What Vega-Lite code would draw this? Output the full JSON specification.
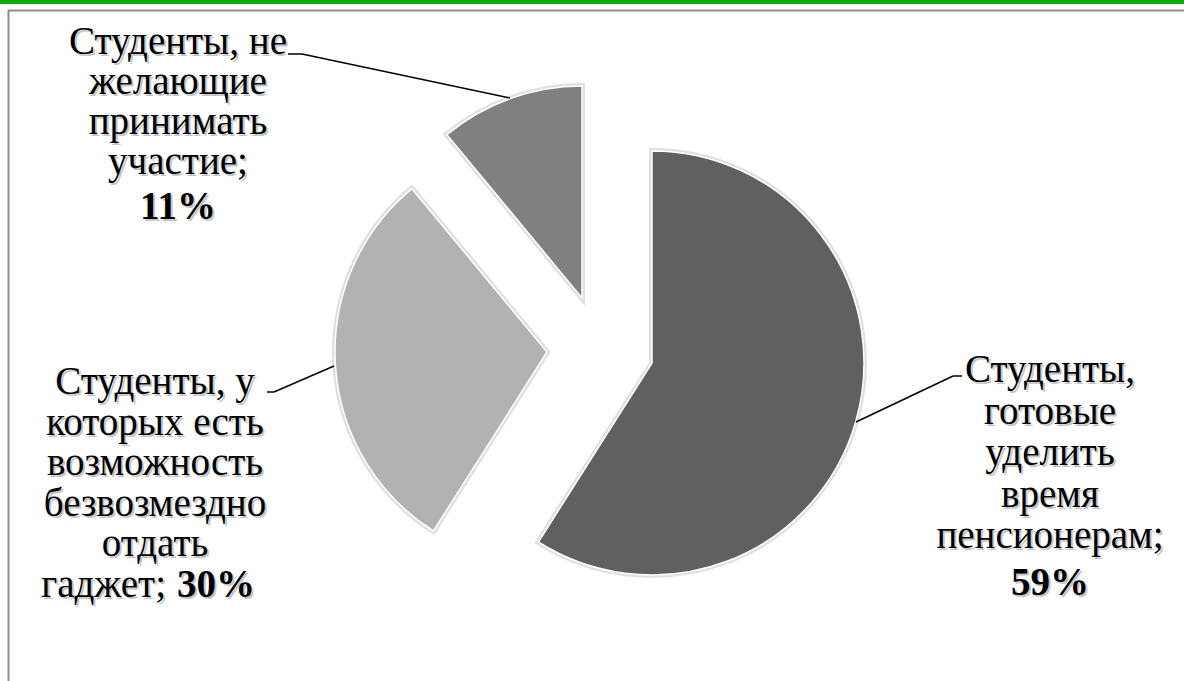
{
  "$schema": "https://vega.github.io/schema/vega-lite/v6.json",
  "width": 1176,
  "height": 671,
  "autosize": {"type": "none"},
  "padding": {"left": 8, "top": 10, "right": 0, "bottom": 0},
  "background": "white",
  "config": {"view": {"stroke": null}, "text": {"font": "Liberation Serif, Times New Roman, serif"}},
  "data": {
    "values": [
      {"category": "Студенты, готовые уделить время пенсионерам", "value": 0.59, "lines": ["Студенты,", "готовые", "уделить", "время", "пенсионерам;"], "tail": ""},
      {"category": "Студенты, у которых есть возможность безвозмездно отдать гаджет", "value": 0.30, "lines": ["Студенты, у", "которых есть", "возможность", "безвозмездно", "отдать"], "tail": "гаджет;"},
      {"category": "Студенты, не желающие принимать участие", "value": 0.11, "lines": ["Студенты, не", "желающие", "принимать", "участие;"], "tail": ""}
    ]
  },
  "transform": [
    {"stack": "value", "groupby": [], "sort": [{"field": "value", "order": "descending"}], "as": ["v0", "v1"]}
  ],
  "layer": [
    {
      "transform": [{"filter": "datum.value == 0.59"}],
      "mark": {"type": "rule", "color": "#10A910", "strokeWidth": 4},
      "encoding": {"x": {"value": -8}, "x2": {"value": 1176}, "y": {"value": -8}, "y2": {"value": -8}}
    },
    {
      "transform": [{"filter": "datum.value == 0.59"}],
      "mark": {"type": "rule", "color": "#8f8f8f", "strokeWidth": 2},
      "encoding": {"x": {"value": 0}, "x2": {"value": 1176}, "y": {"value": 0.5}, "y2": {"value": 0.5}}
    },
    {
      "transform": [{"filter": "datum.value == 0.59"}],
      "mark": {"type": "rule", "color": "#8f8f8f", "strokeWidth": 2},
      "encoding": {"x": {"value": 0.5}, "x2": {"value": 0.5}, "y": {"value": 0}, "y2": {"value": 671}}
    },
    {
      "transform": [{"filter": "datum.value == 0.59"}],
      "mark": {"type": "arc", "radius": 212, "x": 644, "y": 353, "fill": null, "stroke": "#000", "strokeOpacity": 0.12, "strokeWidth": 6},
      "encoding": {
        "theta": {"field": "v0", "type": "quantitative", "stack": null, "scale": {"domain": [0, 1], "range": [0, 6.283185307179586], "zero": true, "nice": false}},
        "theta2": {"field": "v1"}
      }
    },
    {
      "transform": [{"filter": "datum.value == 0.30"}],
      "mark": {"type": "arc", "radius": 212, "x": 539, "y": 342, "fill": null, "stroke": "#000", "strokeOpacity": 0.12, "strokeWidth": 6},
      "encoding": {
        "theta": {"field": "v0", "type": "quantitative", "stack": null},
        "theta2": {"field": "v1"}
      }
    },
    {
      "transform": [{"filter": "datum.value == 0.11"}],
      "mark": {"type": "arc", "radius": 212, "x": 574, "y": 288, "fill": null, "stroke": "#000", "strokeOpacity": 0.12, "strokeWidth": 6},
      "encoding": {
        "theta": {"field": "v0", "type": "quantitative", "stack": null},
        "theta2": {"field": "v1"}
      }
    },
    {
      "transform": [{"filter": "datum.value == 0.59"}],
      "mark": {"type": "arc", "radius": 212, "x": 644, "y": 353, "stroke": "white", "strokeWidth": 1.5},
      "encoding": {
        "theta": {"field": "v0", "type": "quantitative", "stack": null},
        "theta2": {"field": "v1"},
        "color": {"field": "category", "type": "nominal", "legend": null, "scale": {"domain": ["Студенты, готовые уделить время пенсионерам", "Студенты, у которых есть возможность безвозмездно отдать гаджет", "Студенты, не желающие принимать участие"], "range": ["#606060", "#b2b2b2", "#808080"]}}
      }
    },
    {
      "transform": [{"filter": "datum.value == 0.30"}],
      "mark": {"type": "arc", "radius": 212, "x": 539, "y": 342, "stroke": "white", "strokeWidth": 1.5},
      "encoding": {
        "theta": {"field": "v0", "type": "quantitative", "stack": null},
        "theta2": {"field": "v1"},
        "color": {"field": "category", "type": "nominal", "legend": null}
      }
    },
    {
      "transform": [{"filter": "datum.value == 0.11"}],
      "mark": {"type": "arc", "radius": 212, "x": 574, "y": 288, "stroke": "white", "strokeWidth": 1.5},
      "encoding": {
        "theta": {"field": "v0", "type": "quantitative", "stack": null},
        "theta2": {"field": "v1"},
        "color": {"field": "category", "type": "nominal", "legend": null}
      }
    },
    {
      "transform": [{"filter": "datum.value == 0.11"}],
      "mark": {"type": "rule", "color": "#000", "strokeWidth": 1.5},
      "encoding": {"x": {"value": 280}, "y": {"value": 44}, "x2": {"value": 294}, "y2": {"value": 44}}
    },
    {
      "transform": [{"filter": "datum.value == 0.11"}],
      "mark": {"type": "rule", "color": "#000", "strokeWidth": 1.5},
      "encoding": {"x": {"value": 294}, "y": {"value": 44}, "x2": {"value": 502}, "y2": {"value": 88}}
    },
    {
      "transform": [{"filter": "datum.value == 0.30"}],
      "mark": {"type": "rule", "color": "#000", "strokeWidth": 1.5},
      "encoding": {"x": {"value": 259}, "y": {"value": 382}, "x2": {"value": 266}, "y2": {"value": 382}}
    },
    {
      "transform": [{"filter": "datum.value == 0.30"}],
      "mark": {"type": "rule", "color": "#000", "strokeWidth": 1.5},
      "encoding": {"x": {"value": 266}, "y": {"value": 382}, "x2": {"value": 326}, "y2": {"value": 356}}
    },
    {
      "transform": [{"filter": "datum.value == 0.59"}],
      "mark": {"type": "rule", "color": "#000", "strokeWidth": 1.5},
      "encoding": {"x": {"value": 848}, "y": {"value": 412}, "x2": {"value": 945}, "y2": {"value": 366}}
    },
    {
      "transform": [{"filter": "datum.value == 0.59"}],
      "mark": {"type": "rule", "color": "#000", "strokeWidth": 1.5},
      "encoding": {"x": {"value": 945}, "y": {"value": 366}, "x2": {"value": 954}, "y2": {"value": 366}}
    },
    {
      "transform": [{"filter": "datum.value == 0.11"}],
      "mark": {"type": "text", "x": 172, "y": 46, "align": "center", "baseline": "alphabetic", "fontSize": 39, "lineHeight": 40, "color": "#000", "opacity": 0.22},
      "encoding": {"text": {"field": "lines", "type": "nominal"}}
    },
    {
      "transform": [{"filter": "datum.value == 0.11"}],
      "mark": {"type": "text", "x": 172, "y": 211, "align": "center", "baseline": "alphabetic", "fontSize": 39, "fontWeight": "bold", "color": "#000", "opacity": 0.22},
      "encoding": {"text": {"field": "value", "type": "quantitative", "format": ".0%"}}
    },
    {
      "transform": [{"filter": "datum.value == 0.30"}],
      "mark": {"type": "text", "x": 149, "y": 386, "align": "center", "baseline": "alphabetic", "fontSize": 39, "lineHeight": 40.6, "color": "#000", "opacity": 0.22},
      "encoding": {"text": {"field": "lines", "type": "nominal"}}
    },
    {
      "transform": [{"filter": "datum.value == 0.30"}],
      "mark": {"type": "text", "x": 160, "y": 589, "align": "right", "baseline": "alphabetic", "fontSize": 39, "color": "#000", "opacity": 0.22},
      "encoding": {"text": {"field": "tail", "type": "nominal"}}
    },
    {
      "transform": [{"filter": "datum.value == 0.30"}],
      "mark": {"type": "text", "x": 171, "y": 589, "align": "left", "baseline": "alphabetic", "fontSize": 39, "fontWeight": "bold", "color": "#000", "opacity": 0.22},
      "encoding": {"text": {"field": "value", "type": "quantitative", "format": ".0%"}}
    },
    {
      "transform": [{"filter": "datum.value == 0.59"}],
      "mark": {"type": "text", "x": 1044, "y": 374, "align": "center", "baseline": "alphabetic", "fontSize": 39, "lineHeight": 41.5, "color": "#000", "opacity": 0.22},
      "encoding": {"text": {"field": "lines", "type": "nominal"}}
    },
    {
      "transform": [{"filter": "datum.value == 0.59"}],
      "mark": {"type": "text", "x": 1044, "y": 587, "align": "center", "baseline": "alphabetic", "fontSize": 39, "fontWeight": "bold", "color": "#000", "opacity": 0.22},
      "encoding": {"text": {"field": "value", "type": "quantitative", "format": ".0%"}}
    },
    {
      "transform": [{"filter": "datum.value == 0.11"}],
      "mark": {"type": "text", "x": 170, "y": 44, "align": "center", "baseline": "alphabetic", "fontSize": 39, "lineHeight": 40, "color": "#000"},
      "encoding": {"text": {"field": "lines", "type": "nominal"}}
    },
    {
      "transform": [{"filter": "datum.value == 0.11"}],
      "mark": {"type": "text", "x": 170, "y": 209, "align": "center", "baseline": "alphabetic", "fontSize": 39, "fontWeight": "bold", "color": "#000"},
      "encoding": {"text": {"field": "value", "type": "quantitative", "format": ".0%"}}
    },
    {
      "transform": [{"filter": "datum.value == 0.30"}],
      "mark": {"type": "text", "x": 147, "y": 384, "align": "center", "baseline": "alphabetic", "fontSize": 39, "lineHeight": 40.6, "color": "#000"},
      "encoding": {"text": {"field": "lines", "type": "nominal"}}
    },
    {
      "transform": [{"filter": "datum.value == 0.30"}],
      "mark": {"type": "text", "x": 158, "y": 587, "align": "right", "baseline": "alphabetic", "fontSize": 39, "color": "#000"},
      "encoding": {"text": {"field": "tail", "type": "nominal"}}
    },
    {
      "transform": [{"filter": "datum.value == 0.30"}],
      "mark": {"type": "text", "x": 169, "y": 587, "align": "left", "baseline": "alphabetic", "fontSize": 39, "fontWeight": "bold", "color": "#000"},
      "encoding": {"text": {"field": "value", "type": "quantitative", "format": ".0%"}}
    },
    {
      "transform": [{"filter": "datum.value == 0.59"}],
      "mark": {"type": "text", "x": 1042, "y": 372, "align": "center", "baseline": "alphabetic", "fontSize": 39, "lineHeight": 41.5, "color": "#000"},
      "encoding": {"text": {"field": "lines", "type": "nominal"}}
    },
    {
      "transform": [{"filter": "datum.value == 0.59"}],
      "mark": {"type": "text", "x": 1042, "y": 585, "align": "center", "baseline": "alphabetic", "fontSize": 39, "fontWeight": "bold", "color": "#000"},
      "encoding": {"text": {"field": "value", "type": "quantitative", "format": ".0%"}}
    }
  ]
}
